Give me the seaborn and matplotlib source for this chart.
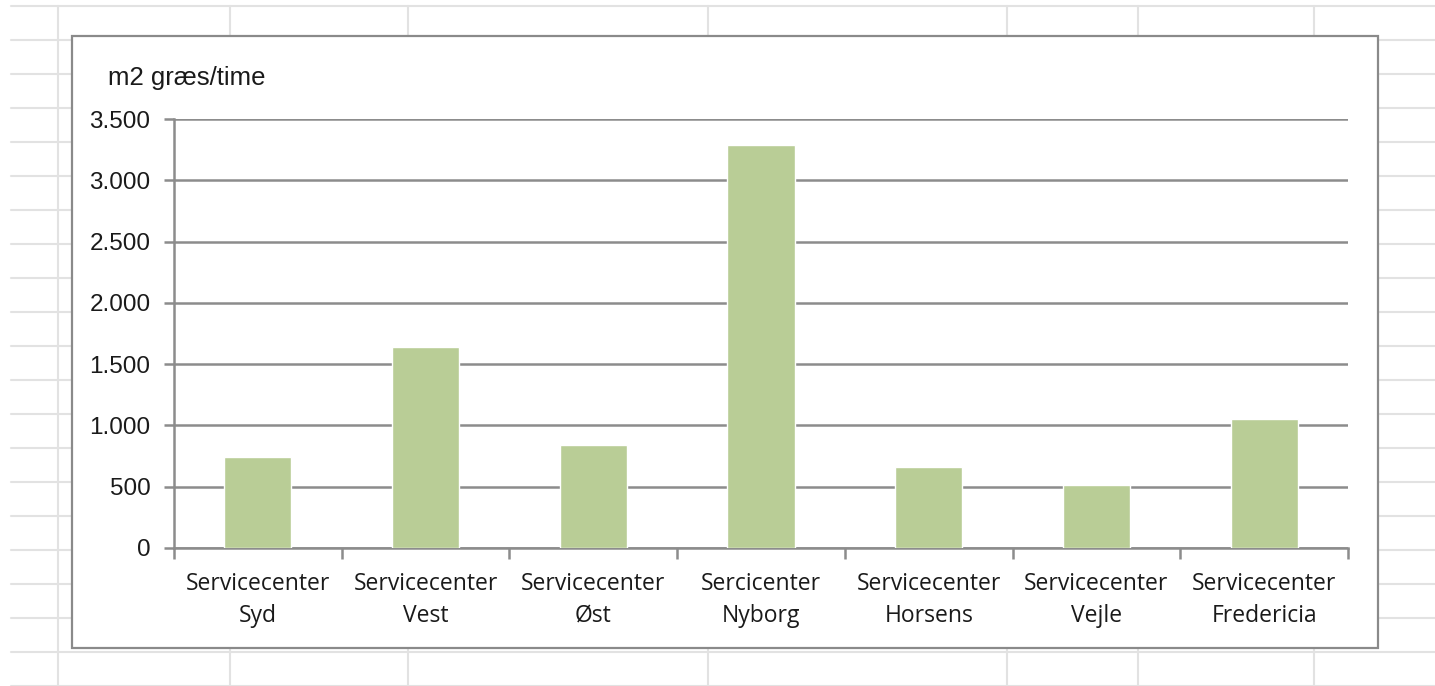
import matplotlib
matplotlib.use("Agg")
import matplotlib.pyplot as plt
from matplotlib.lines import Line2D
from matplotlib.patches import Rectangle
from matplotlib.ticker import FuncFormatter, FixedLocator
import numpy as np
import pandas as pd
import seaborn as sns

# chart data
centers = ["Servicecenter\nSyd", "Servicecenter\nVest", "Servicecenter\nØst",
           "Sercicenter\nNyborg", "Servicecenter\nHorsens", "Servicecenter\nVejle",
           "Servicecenter\nFredericia"]
m2_per_hour = [745, 1640, 840, 3285, 660, 515, 1055]
y_ticks = [0, 500, 1000, 1500, 2000, 2500, 3000, 3500]
y_label = "m2 græs/time"

W, H = 1435, 686
BAR_COLOR = "#b9cd96"
GRID_COLOR = "#8c8c8c"
TEXT_COLOR = "#1a1a1a"

sns.set_theme(style="white")
plt.rcParams['font.family'] = ['Liberation Sans', 'DejaVu Sans']

fig = plt.figure(figsize=(W / 100, H / 100), dpi=100)
fig.patch.set_facecolor("white")

# spreadsheet cell grid behind the chart
for yp in range(6, H + 1, 34):
    fig.add_artist(Line2D([11 / W, 1], [1 - yp / H, 1 - yp / H], color="#e2e2e2", lw=1.5, zorder=0))
for xp in [58, 230, 408, 708, 1007, 1138, 1314]:
    fig.add_artist(Line2D([xp / W, xp / W], [0, 1 - 6 / H], color="#e2e2e2", lw=1.5, zorder=0))

# chart area box
fig.add_artist(Rectangle((72 / W, 1 - 648 / H), 1306 / W, 612 / H, transform=fig.transFigure,
                         facecolor="white", edgecolor="#8a8a8a", lw=1.6, zorder=1))

ax = fig.add_axes([174 / W, 1 - 548 / H, 1174 / W, 429 / H], zorder=2)
ax.patch.set_alpha(0)

df = pd.DataFrame({"center": centers, "value": m2_per_hour})
sns.barplot(data=df, x="center", y="value", color=BAR_COLOR, saturation=1,
            width=0.4, ax=ax, zorder=3)

ax.set_xlim(-0.5, len(centers) - 0.5)
ax.set_ylim(0, 3500)
ax.set_yticks(y_ticks)
ax.yaxis.set_major_formatter(FuncFormatter(lambda v, p: f"{v:,.0f}".replace(",", ".")))
ax.yaxis.grid(True, color=GRID_COLOR, lw=1.8)
ax.set_axisbelow(True)

for s in ["top", "right"]:
    ax.spines[s].set_visible(False)
for s in ["left", "bottom"]:
    ax.spines[s].set_color(GRID_COLOR)
    ax.spines[s].set_linewidth(1.8)

ax.set_xlabel("")
ax.set_ylabel("")
ax.tick_params(axis="y", length=7, width=1.8, color=GRID_COLOR, pad=10,
               labelsize=17.5, labelcolor=TEXT_COLOR, left=True)
ax.tick_params(axis="x", which="major", length=0, pad=17, labelsize=16.5, labelcolor=TEXT_COLOR)
ax.xaxis.set_minor_locator(FixedLocator(np.arange(-0.5, len(centers), 1.0)))
ax.tick_params(axis="x", which="minor", length=8, width=1.8, color=GRID_COLOR, bottom=True)
for lbl in ax.get_xticklabels():
    lbl.set_linespacing(1.45)
    lbl.set_fontfamily(['Open Sans', 'DejaVu Sans'])

fig.text(108 / W, 1 - 78 / H, y_label, fontsize=18.5, color=TEXT_COLOR, va="center", ha="left")

fig.savefig("out.png", dpi=100)
